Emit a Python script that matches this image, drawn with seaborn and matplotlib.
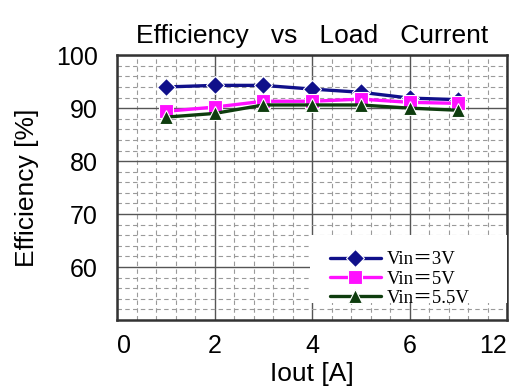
import numpy as np
import pandas as pd
import matplotlib
matplotlib.use("Agg")
import matplotlib.pyplot as plt
import seaborn as sns
from matplotlib.ticker import MultipleLocator
from matplotlib.patches import Rectangle

# Load current [A]
iout = [1, 2, 3, 4, 5, 6, 7]
# Efficiency [%] per input voltage
eff_3v = [94.0, 94.3, 94.3, 93.6, 93.0, 91.9, 91.6]
eff_5v = [89.4, 90.2, 91.3, 91.3, 91.7, 91.1, 90.9]
eff_55v = [88.3, 89.0, 90.6, 90.6, 90.6, 90.0, 89.6]
series_names = ["Vin＝3V", "Vin＝5V", "Vin＝5.5V"]

xtick_pos = [0, 2, 4, 6, 8]
xtick_labels = ["0", "2", "4", "6", "12"]
ytick_pos = [60, 70, 80, 90, 100]

df = pd.DataFrame({
    "Iout": iout * 3,
    "Eff": eff_3v + eff_5v + eff_55v,
    "Vin": [series_names[0]] * 7 + [series_names[1]] * 7 + [series_names[2]] * 7,
})

sns.set_theme(style="white")
plt.rcParams["font.family"] = ["Liberation Sans", "DejaVu Sans"]
for key in ("text.color", "axes.labelcolor", "xtick.color", "ytick.color"):
    plt.rcParams[key] = "black"

fig = plt.figure(figsize=(5.18, 3.90), dpi=100)
ax = fig.add_axes([0.226, 0.1795, 0.753, 0.679])

palette = {series_names[0]: "#10108a", series_names[1]: "#ff10ff", series_names[2]: "#0e3d0e"}
markers = {series_names[0]: "D", series_names[1]: "s", series_names[2]: "^"}

sns.lineplot(data=df, x="Iout", y="Eff", hue="Vin", style="Vin",
             palette=palette, markers=markers, dashes=False,
             linewidth=2.4, markersize=9.5, markeredgewidth=0.8,
             ax=ax, zorder=5)

ax.set_xlim(0, 8)
ax.set_ylim(50, 100)

# Grid: solid majors, dashed minors
ax.xaxis.set_major_locator(MultipleLocator(2))
ax.xaxis.set_minor_locator(MultipleLocator(0.4))
ax.yaxis.set_major_locator(MultipleLocator(10))
ax.yaxis.set_minor_locator(MultipleLocator(2))
ax.grid(which="major", color="#555555", linewidth=1.0, linestyle="-")
ax.grid(which="minor", color="#9a9a9a", linewidth=0.8, linestyle=(0, (4, 3)))
ax.set_axisbelow(True)

ax.set_xticks(xtick_pos)
ax.set_xticklabels(xtick_labels)
ax.set_yticks(ytick_pos)
ax.set_yticklabels([str(v) for v in ytick_pos])
ax.tick_params(axis="both", which="both", length=0, labelsize=18)
ax.tick_params(axis="x", pad=10)
ax.tick_params(axis="y", pad=14)
xl = ax.get_xticklabels()
xl[0].set_ha("left")
xl[-1].set_ha("right")

for s in ax.spines.values():
    s.set_color("#333333")
    s.set_linewidth(1.8)

ax.set_title("Efficiency   vs   Load   Current", fontsize=19, pad=9)
ax.set_xlabel("Iout [A]", fontsize=19, labelpad=3)
ax.set_ylabel("Efficiency [%]", fontsize=19, labelpad=12)

# White panel behind the legend
ax.add_patch(Rectangle((0.495, 0.064), 0.505, 0.256, transform=ax.transAxes,
                       facecolor="white", edgecolor="none", zorder=3))

leg = ax.legend(loc="upper left", bbox_to_anchor=(0.546, 0.26), frameon=False,
                handlelength=2.7, labelspacing=0.12, borderpad=0.0,
                borderaxespad=0.0, handletextpad=0.35,
                prop={"family": ["Liberation Serif", "Noto Sans CJK JP"], "size": 13.5})
leg.set_zorder(10)

fig.savefig("out.png", dpi=100, facecolor="white")
